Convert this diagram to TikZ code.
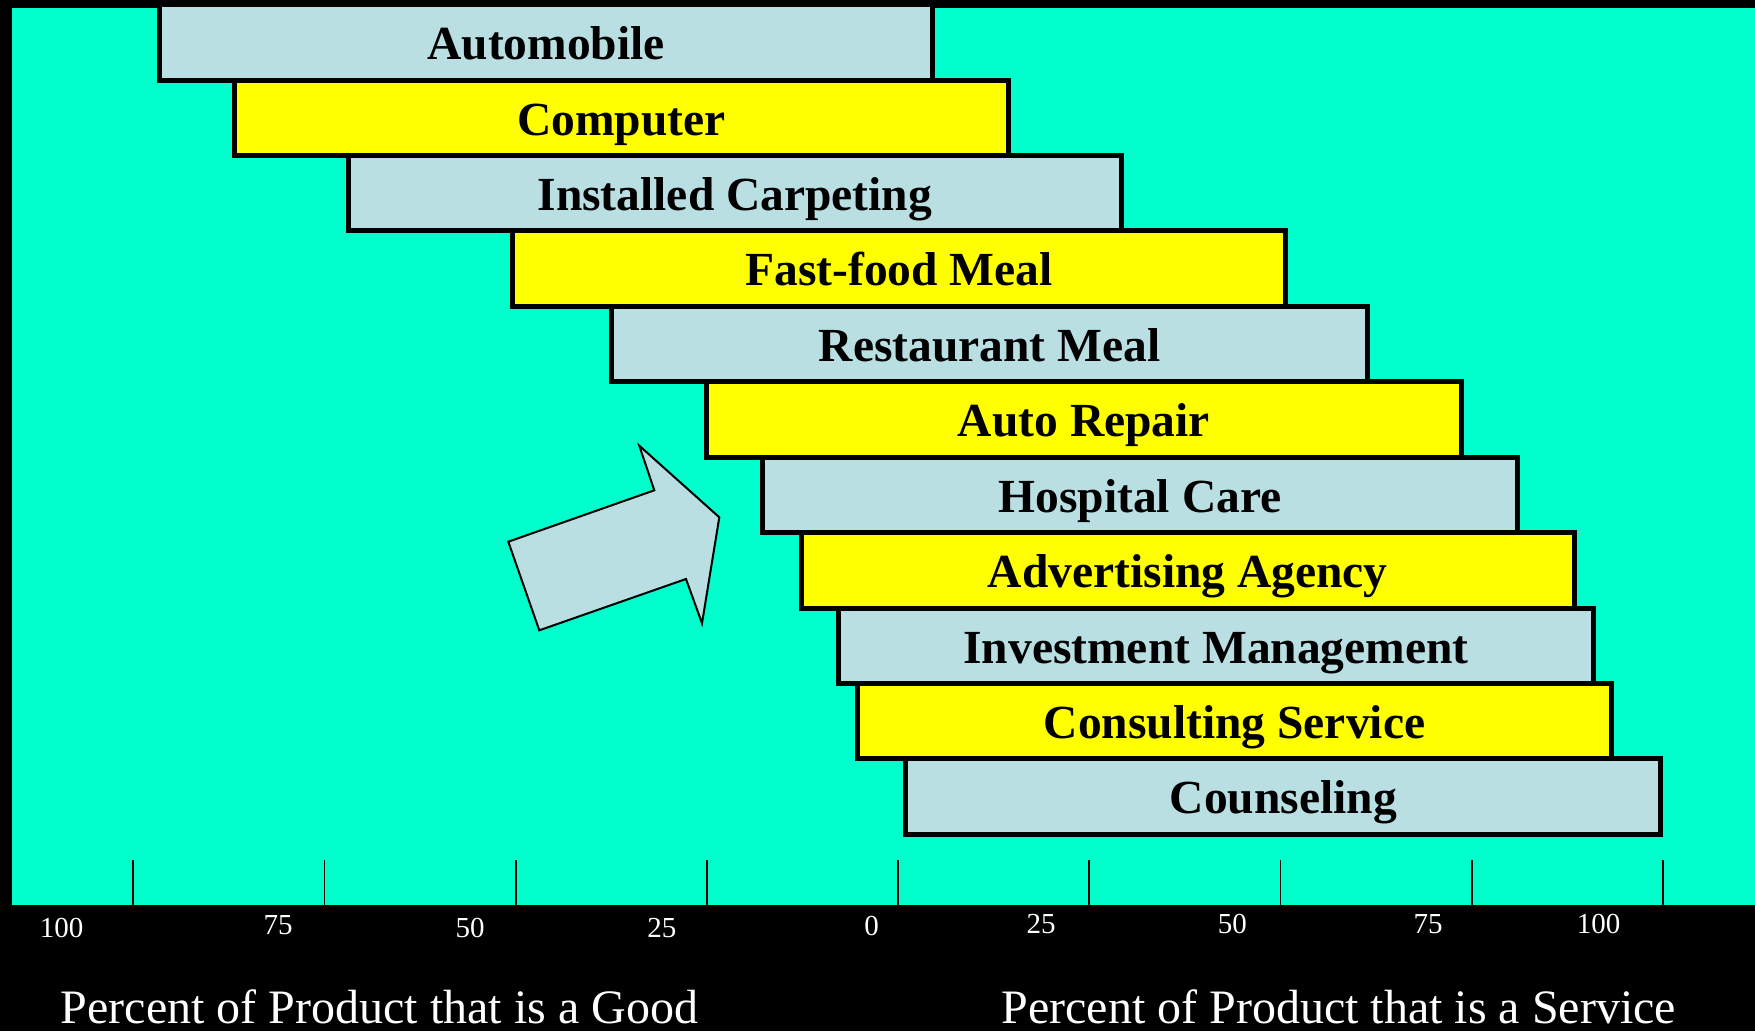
\documentclass[tikz,border=0pt]{standalone}
\usepackage{fontspec}
\setmainfont{Liberation Serif}
\usetikzlibrary{positioning}

\definecolor{bgcyan}{RGB}{0,255,204}
\definecolor{barblue}{RGB}{185,223,227}
\definecolor{baryellow}{RGB}{255,255,0}

\tikzset{
  prodbar/.style={draw,rectangle,line width=5pt,inner sep=0pt,outer sep=0pt,
    minimum height=75.4pt,text height=34.6pt,text depth=0pt,anchor=south west,
    font=\fontsize{47.5}{57}\selectfont\bfseries},
  bluebar/.style={prodbar,fill=barblue},
  yellowbar/.style={prodbar,fill=baryellow},
  axistick/.style={line width=1.8pt},
  ticklabel/.style={text=white,anchor=base,inner sep=0pt,font=\fontsize{29}{35}\selectfont},
  axistitle/.style={text=white,anchor=base west,inner sep=0pt,font=\fontsize{48}{57}\selectfont}
}

\begin{document}
\begin{tikzpicture}[x=1pt,y=-1pt]
      \useasboundingbox (0,0) rectangle (1755,1031);
      \fill[black] (0,0) rectangle (1755,1031);
      \fill[bgcyan] (11.5,8) rectangle (1755,905);

      % goods to services
      \node[bluebar,minimum width=772.7pt] (automobile) at (159.8,80) {Automobile};
      \node[yellowbar,minimum width=774pt] (computer) at (234.5,155.4) {Computer};
      \node[bluebar,minimum width=773.3pt] (carpeting) at (348.2,230.9) {Installed Carpeting};
      \node[yellowbar,minimum width=773.3pt] (fastfood) at (512.5,306.3) {Fast-food Meal};
      \node[bluebar,minimum width=755.7pt] (restaurant) at (611.8,381.7) {Restaurant Meal};
      \node[yellowbar,minimum width=754.7pt] (autorepair) at (706.5,457.2) {Auto Repair};
      \node[bluebar,minimum width=755pt] (hospital) at (762.5,532.6) {Hospital Care};
      \node[yellowbar,minimum width=773.3pt] (advertising) at (801.2,608) {Advertising Agency};
      \node[bluebar,minimum width=754.4pt] (investment) at (838.8,683.4) {Investment Management};
      \node[yellowbar,minimum width=754pt] (consulting) at (857.5,758.9) {Consulting Service};
      \node[bluebar,minimum width=755pt] (counseling) at (905.8,834.3) {Counseling};

      % block arrow
      \draw[fill=barblue,line width=2pt,line join=miter] (639.3,445.7) -- (719.3,517.3) -- (702,623.3)
        -- (686,579) -- (539.3,630.3) -- (508.3,541.7) -- (654.3,490.3) -- cycle;

      % scale
      \draw[axistick] (133.2,860) -- (133.2,905);
      \draw[axistick] (324.4,860) -- (324.4,905);
      \draw[axistick] (515.6,860) -- (515.6,905);
      \draw[axistick] (706.8,860) -- (706.8,905);
      \draw[axistick] (898,860) -- (898,905);
      \draw[axistick] (1089.2,860) -- (1089.2,905);
      \draw[axistick] (1280.4,860) -- (1280.4,905);
      \draw[axistick] (1471.6,860) -- (1471.6,905);
      \draw[axistick] (1662.8,860) -- (1662.8,905);

      \node[ticklabel] (g100) at (61.7,937) {100};
      \node[ticklabel] (g75) at (278.2,934.7) {75};
      \node[ticklabel] (g50) at (470,937.3) {50};
      \node[ticklabel] (g25) at (661.8,937) {25};
      \node[ticklabel] (g0) at (871.5,935) {0};
      \node[ticklabel] (s25) at (1041,933.3) {25};
      \node[ticklabel] (s50) at (1232.4,933.3) {50};
      \node[ticklabel] (s75) at (1428,933.3) {75};
      \node[ticklabel] (s100) at (1598.6,933.3) {100};

      \node[axistitle] (goodtitle) at (60.7,1023.3) {Percent of Product that is a Good};
      \node[axistitle] (servicetitle) at (1001.4,1023.3) {Percent of Product that is a Service};
\end{tikzpicture}
\end{document}
